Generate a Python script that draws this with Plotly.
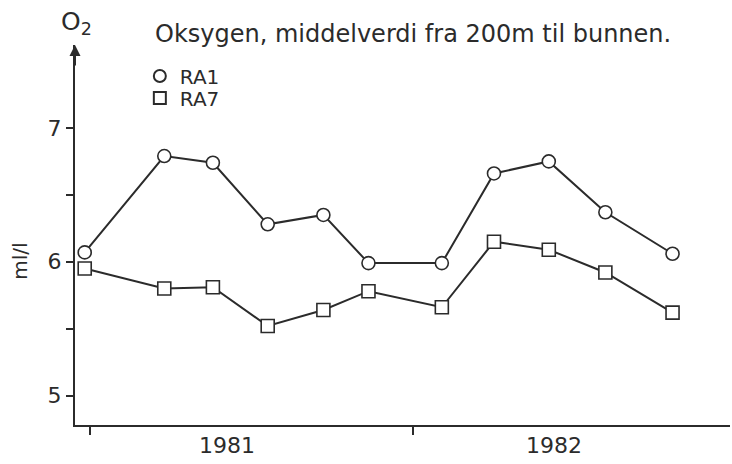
import plotly.graph_objects as go

# Sampling dates and mean oxygen (ml/l, 200 m to bottom)
dates = ["1980-12-26", "1981-03-26", "1981-05-20", "1981-07-21", "1981-09-22",
         "1981-11-12", "1982-02-03", "1982-04-03", "1982-06-04", "1982-08-07",
         "1982-10-22"]
ra1 = [6.07, 6.79, 6.74, 6.28, 6.35, 5.99, 5.99, 6.66, 6.75, 6.37, 6.06]
ra7 = [5.95, 5.80, 5.81, 5.52, 5.64, 5.78, 5.66, 6.15, 6.09, 5.92, 5.62]

year_labels = ["1981", "1982"]
year_label_pos = ["1981-06-05", "1982-06-10"]
year_bounds = ["1981-01-01", "1982-01-01"]
y_labels = [5, 6, 7]
y_minor = [5.5, 6.5]

ink = "#2b2b2b"
font = "DejaVu Sans, sans-serif"

fig = go.Figure()
series = [("RA1", ra1, "circle", "legend"), ("RA7", ra7, "square", "legend2")]
for name, vals, sym, leg in series:
    fig.add_trace(go.Scatter(x=dates, y=vals, mode="lines",
                             line=dict(color=ink, width=2), showlegend=False,
                             hoverinfo="skip"))
for name, vals, sym, leg in series:
    fig.add_trace(go.Scatter(x=dates, y=vals, mode="markers", name=name,
                             legend=leg,
                             marker=dict(symbol=sym, size=13, color="white",
                                         line=dict(color=ink, width=1.6))))

legend_style = dict(xanchor="left", yanchor="middle",
                    bgcolor="rgba(0,0,0,0)", font=dict(size=20),
                    itemsizing="constant", itemwidth=30)

fig.update_layout(
    width=732, height=464,
    margin=dict(l=75, r=2, t=45, b=39),
    paper_bgcolor="white", plot_bgcolor="white",
    font=dict(family=font, color=ink, size=22),
    showlegend=True,
    legend=dict(x=0.099, y=1.0 - (76 - 45) / 380, **legend_style),
    legend2=dict(x=0.099, y=1.0 - (98 - 45) / 380, **legend_style),
    xaxis=dict(
        type="date", range=["1980-12-15", "1982-12-26"],
        showline=True, linecolor=ink, linewidth=2,
        showgrid=False, zeroline=False,
        tickmode="array", tickvals=year_label_pos, ticktext=year_labels,
        ticks="", tickfont=dict(size=22),
        minor=dict(tickmode="array", tickvals=year_bounds, ticks="outside",
                   ticklen=8, tickwidth=1.5, tickcolor=ink, showgrid=False),
    ),
    yaxis=dict(
        range=[4.78, 7.62],
        showline=True, linecolor=ink, linewidth=2,
        showgrid=False, zeroline=False,
        tickmode="array", tickvals=y_labels, ticks="outside",
        ticklen=7, tickwidth=1.5, tickcolor=ink, tickfont=dict(size=22),
        minor=dict(tickmode="array", tickvals=y_minor, ticks="outside",
                   ticklen=7, tickwidth=1.5, tickcolor=ink, showgrid=False),
    ),
)

# Unit label beside the value axis, level with 6 ml/l
fig.add_annotation(xref="paper", yref="y", x=0, xshift=-55, y=6.0,
                   xanchor="center", yanchor="middle", showarrow=False,
                   textangle=-90, text="ml/l", font=dict(size=20))

# Upward arrow at the top of the value axis
fig.add_annotation(xref="paper", yref="paper", x=0, y=1.0, ax=0, ay=22,
                   showarrow=True, arrowhead=2, arrowsize=1.1, arrowwidth=2,
                   arrowcolor=ink, text="")
fig.add_annotation(xref="paper", yref="paper", x=0.003, y=1.0, yshift=22,
                   xanchor="center", yanchor="middle", showarrow=False,
                   text="O<sub>2</sub>", font=dict(size=25))
fig.add_annotation(xref="paper", yref="paper", x=(153 - 75) / 655, y=1.0,
                   yshift=11, xanchor="left", yanchor="middle", showarrow=False,
                   text="Oksygen, middelverdi fra 200m til bunnen.",
                   font=dict(size=24))

fig.write_html("out.html")
